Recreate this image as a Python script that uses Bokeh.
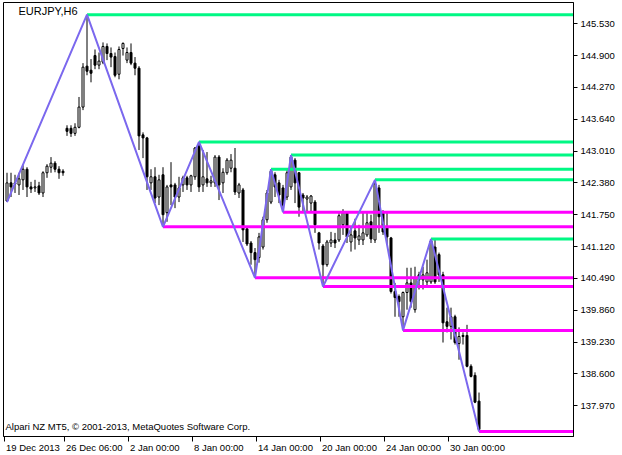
import numpy as np
from bokeh.plotting import figure
from bokeh.models import (FixedTicker, PrintfTickFormatter, Label, ColumnDataSource,
                          Range1d, LinearAxis)
from bokeh.embed import file_html
from bokeh.resources import INLINE

# EURJPY H6 candles (bar index 0 = 19 Dec 2013)
opens = [142.02, 142.38, 142.36, 142.34, 142.44, 142.65, 142.30, 142.28, 142.32, 142.18,
         142.58, 142.69, 142.77, 142.65, 142.61, 143.46, 143.46, 143.36, 143.48, 143.88,
         144.69, 144.61, 144.90, 144.71, 144.77, 145.08, 144.94, 144.88, 144.53, 145.04,
         144.81, 144.96, 144.75, 144.65, 143.33, 143.27, 142.38, 142.50, 142.10, 142.54,
         141.79, 142.34, 142.34, 142.10, 142.34, 142.48, 142.34, 142.50, 143.11, 142.34,
         142.46, 142.38, 142.38, 142.89, 142.38, 142.58, 142.67, 142.67, 142.18, 142.24,
         141.47, 141.19, 141.00, 140.90, 141.11, 141.65, 142.00, 142.54, 142.38, 142.28,
         142.10, 142.30, 142.83, 142.58, 142.14, 142.06, 141.98, 142.00, 141.39, 141.13,
         140.76, 141.19, 141.25, 141.25, 141.55, 141.79, 141.21, 141.43, 141.25, 141.25,
         141.35, 141.61, 141.25, 142.28, 141.80, 141.51, 141.29, 140.23, 140.13, 139.73,
         140.21, 140.40, 139.87, 140.56, 140.46, 140.42, 140.42, 141.11, 140.96, 140.56,
         139.63, 139.54, 139.73, 139.20, 139.36, 139.36, 138.75, 138.57, 138.06]
highs = [142.58, 142.58, 142.54, 142.58, 142.73, 142.69, 142.40, 142.44, 142.40, 142.61,
         142.75, 142.89, 142.81, 142.71, 142.65, 143.52, 143.52, 143.56, 144.08, 144.75,
         145.71, 144.83, 145.02, 144.96, 145.16, 145.14, 145.06, 144.96, 145.08, 145.16,
         145.06, 145.14, 144.87, 144.69, 143.38, 143.29, 142.65, 142.69, 142.54, 142.69,
         142.34, 142.79, 142.38, 142.50, 142.52, 142.52, 142.54, 143.09, 143.19, 143.03,
         142.99, 142.52, 142.93, 142.93, 142.67, 142.87, 142.95, 143.07, 142.38, 142.28,
         141.51, 141.23, 141.09, 141.39, 141.71, 142.24, 142.65, 142.59, 142.44, 142.34,
         142.63, 142.93, 142.87, 142.59, 142.18, 142.14, 142.14, 142.04, 141.41, 141.17,
         141.25, 141.41, 141.39, 141.80, 141.86, 141.80, 141.51, 141.67, 141.55, 141.80,
         141.79, 141.75, 142.44, 142.34, 141.84, 141.79, 141.31, 140.40, 140.17, 140.23,
         140.70, 140.70, 140.72, 140.62, 140.72, 140.86, 141.27, 141.25, 141.00, 140.62,
         139.91, 139.91, 139.77, 139.52, 139.42, 139.57, 138.79, 138.63, 138.23]
lows = [142.00, 142.10, 142.18, 142.14, 142.24, 142.10, 142.18, 142.20, 142.14, 142.10,
        142.48, 142.58, 142.59, 142.46, 142.52, 143.31, 143.29, 143.31, 143.46, 143.82,
        144.51, 144.37, 144.63, 144.63, 144.73, 144.81, 144.67, 144.47, 144.43, 144.90,
        144.75, 144.71, 144.51, 143.03, 142.87, 142.24, 142.24, 141.98, 141.94, 141.51,
        141.61, 141.94, 141.88, 142.00, 142.20, 142.24, 142.20, 142.44, 142.20, 142.20,
        142.30, 142.30, 142.30, 142.04, 142.18, 142.54, 142.59, 142.14, 142.08, 141.21,
        141.13, 140.76, 140.50, 140.80, 141.06, 141.59, 141.96, 142.10, 141.98, 141.80,
        142.04, 142.24, 141.98, 141.71, 141.80, 141.79, 141.80, 141.39, 141.06, 140.33,
        140.72, 141.11, 141.09, 141.21, 141.35, 141.19, 141.02, 141.06, 141.15, 141.15,
        141.31, 141.19, 141.19, 141.39, 141.35, 141.15, 140.19, 139.73, 139.73, 139.46,
        139.87, 139.91, 139.81, 140.27, 140.27, 140.31, 140.38, 140.38, 140.42, 139.22,
        139.42, 139.28, 139.18, 138.88, 139.18, 138.73, 138.53, 138.02, 137.46]
closes = [142.38, 142.30, 142.38, 142.46, 142.65, 142.30, 142.26, 142.30, 142.18, 142.58,
          142.71, 142.77, 142.65, 142.58, 142.58, 143.40, 143.36, 143.48, 143.88, 144.67,
          144.59, 144.55, 144.71, 144.79, 145.08, 144.94, 144.87, 144.51, 145.02, 145.14,
          144.96, 144.75, 144.65, 143.31, 143.27, 142.50, 142.50, 142.08, 142.44, 141.75,
          142.30, 142.30, 142.10, 142.28, 142.48, 142.34, 142.52, 143.07, 142.30, 142.50,
          142.38, 142.42, 142.89, 142.34, 142.59, 142.83, 142.83, 142.20, 142.34, 141.45,
          141.17, 141.00, 140.86, 141.31, 141.65, 142.18, 142.61, 142.30, 142.14, 141.94,
          142.58, 142.89, 142.38, 141.90, 142.08, 142.10, 142.12, 141.55, 141.19, 140.76,
          141.21, 141.25, 141.19, 141.73, 141.79, 141.31, 141.35, 141.29, 141.33, 141.39,
          141.59, 141.27, 142.36, 141.71, 141.41, 141.31, 140.23, 140.11, 140.03, 140.21,
          140.40, 140.03, 140.50, 140.46, 140.56, 140.60, 141.23, 140.42, 140.56, 139.61,
          139.54, 139.73, 139.22, 139.34, 139.34, 138.75, 138.55, 138.04, 137.50]

tick_bars = [0, 15, 31, 47, 63, 79, 95, 111]
tick_labels = ["19 Dec 2013", "26 Dec 06:00", "2 Jan 00:00", "8 Jan 00:00",
               "14 Jan 00:00", "20 Jan 00:00", "24 Jan 00:00", "30 Jan 00:00"]
price_ticks = [137.970, 138.600, 139.230, 139.860, 140.490, 141.120, 141.750,
               142.380, 143.010, 143.640, 144.270, 144.900, 145.530]

# ZigZag pivots: bar index and kind (H = swing high, L = swing low)
zz_bars = [0, 20, 39, 48, 62, 66, 69, 71, 79, 92, 99, 106, 118]
zz_kind = ["L", "H", "L", "H", "L", "H", "L", "H", "L", "H", "L", "H", "L"]

n = len(opens)
x = np.arange(n)
o = np.array(opens); h = np.array(highs); l = np.array(lows); c = np.array(closes)
up = c >= o

zz_vals = [highs[b] if k == "H" else lows[b] for b, k in zip(zz_bars, zz_kind)]

FONT = "Liberation Sans"
FW, FH = 570, 434
X0, X1 = -0.875, 141.625
PX_PER_BAR = FW / (X1 - X0)

p = figure(frame_width=FW, frame_height=FH, output_backend="svg", toolbar_location=None,
           x_range=Range1d(X0, X1), y_range=Range1d(137.36, 145.95),
           y_axis_location="right", tools="",
           min_border_left=3, min_border_top=2, min_border_right=0, min_border_bottom=0)
p.background_fill_color = "white"
p.border_fill_color = "white"
p.outline_line_color = "black"
p.outline_line_width = 1
p.xgrid.visible = False
p.ygrid.visible = False

# candles
p.segment(x0=x, y0=h, x1=x, y1=l, line_color="black", line_width=1)
bw = 0.5
src_up = ColumnDataSource(dict(x=x[up], top=c[up], bottom=o[up]))
src_dn = ColumnDataSource(dict(x=x[~up], top=o[~up], bottom=c[~up]))
p.vbar(x="x", top="top", bottom="bottom", width=bw, source=src_dn,
       fill_color="black", line_color="black", line_width=1)
p.vbar(x="x", top="top", bottom="bottom", width=bw, source=src_up,
       fill_color="white", line_color="black", line_width=1)

# levels from pivots
hi_x = [b for b, k in zip(zz_bars[1:], zz_kind[1:]) if k == "H"]
hi_y = [v for v, k in zip(zz_vals[1:], zz_kind[1:]) if k == "H"]
lo_x = [b for b, k in zip(zz_bars[1:], zz_kind[1:]) if k == "L"]
lo_y = [v for v, k in zip(zz_vals[1:], zz_kind[1:]) if k == "L"]
p.ray(x=hi_x, y=hi_y, length=0, angle=0, line_color="#00F884", line_width=3)
p.ray(x=lo_x, y=lo_y, length=0, angle=0, line_color="#FF00FF", line_width=3)

# zigzag
p.line(zz_bars, zz_vals, line_color="#7B68EE", line_width=2)

# y axis (right)
ya = p.yaxis[0]
ya.ticker = FixedTicker(ticks=price_ticks)
ya.formatter = PrintfTickFormatter(format="%.3f")
ya.major_tick_in = 0
ya.major_tick_out = 4
ya.minor_tick_line_color = None
ya.major_label_standoff = 3
ya.major_label_text_font = FONT
ya.major_label_text_font_size = "9.5px"
ya.major_label_text_color = "black"
ya.axis_line_color = "black"

# x axis: tick marks only
tick_pos = [b - 0.75 for b in tick_bars]
xa = p.xaxis[0]
xa.ticker = FixedTicker(ticks=tick_pos)
xa.major_tick_in = 0
xa.major_tick_out = 5
xa.minor_tick_line_color = None
xa.major_label_standoff = 0
xa.major_label_text_font_size = "1px"
xa.major_label_text_color = None
xa.axis_line_color = "black"

# second x axis carrying the date labels, each placed just right of its tick
FS = 9.5
cw = {" ": 0.278, ":": 0.278, "D": 0.722, "J": 0.5, "a": 0.556, "c": 0.5, "e": 0.556, "n": 0.556}
def text_w(s):
    return sum(cw.get(ch, 0.556) for ch in s) * FS

centers = [tp + (2 + text_w(t) / 2) / PX_PER_BAR for tp, t in zip(tick_pos, tick_labels)]
xb = LinearAxis(ticker=FixedTicker(ticks=centers),
                major_label_overrides={cc: t for cc, t in zip(centers, tick_labels)},
                major_tick_in=0, major_tick_out=0, minor_tick_line_color=None,
                axis_line_color=None, major_label_standoff=0,
                major_label_text_font=FONT, major_label_text_font_size=f"{FS}px",
                major_label_text_color="black")
p.add_layout(xb, "below")

p.add_layout(Label(x=15, y=FH - 2, x_units="screen", y_units="screen", text="EURJPY,H6",
                   text_font=FONT, text_font_size="11px", text_baseline="top",
                   text_color="black"))
p.add_layout(Label(x=2, y=5, x_units="screen", y_units="screen",
                   text="Alpari NZ MT5, \u00a9 2001-2013, MetaQuotes Software Corp.",
                   text_font=FONT, text_font_size="9.5px", text_baseline="bottom",
                   text_color="black"))

open("out.html", "w").write(file_html(p, INLINE))
